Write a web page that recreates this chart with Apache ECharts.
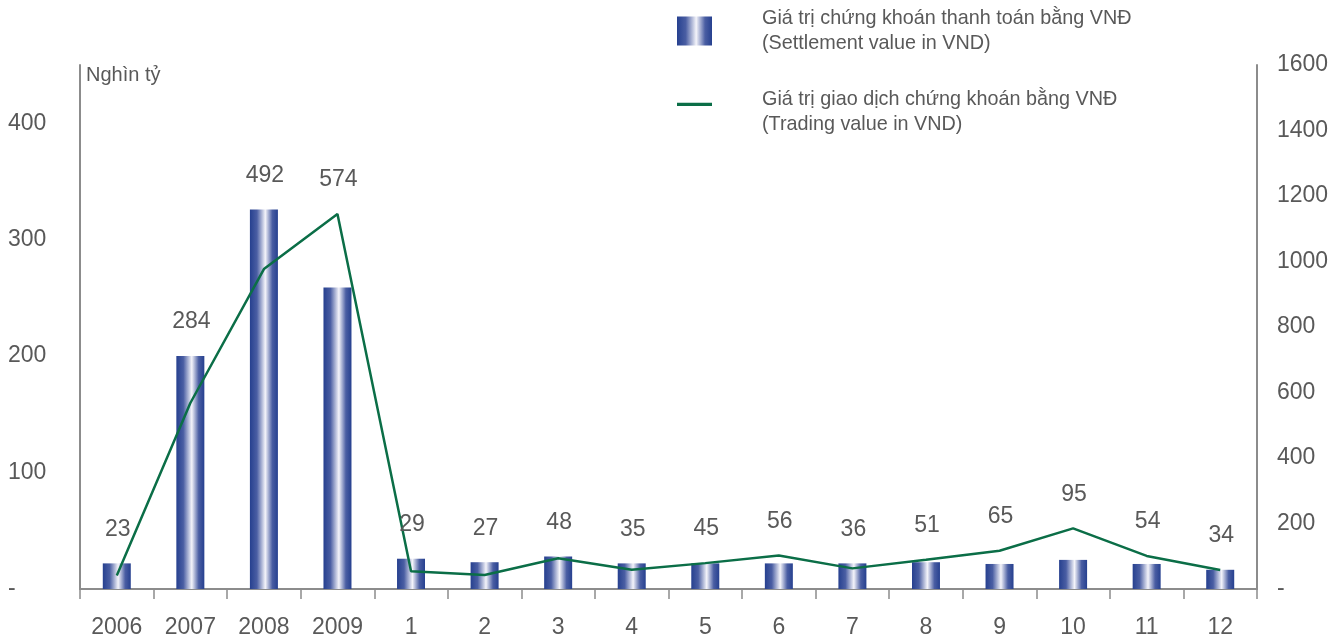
<!DOCTYPE html>
<html>
<head>
<meta charset="utf-8">
<script src="https://cdn.jsdelivr.net/npm/echarts@6/dist/echarts.min.js"></script>
<style>html,body{margin:0;padding:0;background:#fff}#c{width:1344px;height:641px}</style>
</head>
<body>
<div id="c"></div>
<script>
var categories = ['2006','2007','2008','2009','1','2','3','4','5','6','7','8','9','10','11','12'];
var settlementValues = [22, 200, 326, 259, 26, 23, 28, 22, 22, 22, 22, 23, 21.5, 25, 21.5, 16.5];
var tradingValues = [41, 568, 977, 1145, 54, 43, 94, 59, 79, 102, 63, 89, 117, 185, 101, 58];
var valueLabels = ['23','284','492','574','29','27','48','35','45','56','36','51','65','95','54','34'];
var seriesNames = ['Giá trị chứng khoán thanh toán bằng VNĐ\n(Settlement value in VND)',
                   'Giá trị giao dịch chứng khoán bằng VNĐ\n(Trading value in VND)'];
var leftUnit = 'Nghìn tỷ';

var FONT = '"Liberation Sans", Arial, sans-serif';
var TXT = '#595959';
var AX = '#8c8c8c';
var LEFT_MAX = 450, RIGHT_MAX = 1600;
var barGrad = new echarts.graphic.LinearGradient(0, 0, 1, 0, [
  {offset: 0, color: '#26408f'},
  {offset: 0.25, color: '#4a5ea3'},
  {offset: 0.55, color: '#f4f4fa'},
  {offset: 0.8, color: '#4a5ea3'},
  {offset: 1, color: '#26408f'}
]);

var labelData = categories.map(function (c, i) {
  return [i, settlementValues[i], tradingValues[i] * LEFT_MAX / RIGHT_MAX];
});

var legendText = {fontFamily: FONT, fontSize: 19.8, color: TXT, lineHeight: 25, padding: [0, 0, 0, 45]};

var chart = echarts.init(document.getElementById('c'));
chart.setOption({
  animation: false,
  textStyle: {fontFamily: FONT},
  grid: {left: 80, right: 87, top: 65, bottom: 52},
  legend: [
    {
      orient: 'vertical', left: 672, top: 1,
      itemWidth: 35, itemHeight: 29,
      textStyle: legendText,
      data: [{name: seriesNames[0], icon: 'rect'}]
    },
    {
      orient: 'vertical', left: 672, top: 82,
      itemWidth: 35, itemHeight: 29,
      textStyle: legendText,
      data: [{name: seriesNames[1], icon: 'path://M0,0 L32,0 L32,3 L0,3 Z M0,17 L0.01,17 L0,17.01 Z'}]
    }
  ],
  xAxis: {
    type: 'category', data: categories,
    axisLine: {lineStyle: {color: AX, width: 2}},
    axisTick: {show: true, length: 10, interval: 0, lineStyle: {color: AX, width: 1.5}},
    axisLabel: {fontSize: 23, color: TXT, margin: 27, interval: 0, fontFamily: FONT}
  },
  yAxis: [
    {
      type: 'value', min: 0, max: LEFT_MAX, interval: 100,
      name: leftUnit, nameLocation: 'end', nameGap: -10,
      nameTextStyle: {align: 'left', verticalAlign: 'middle', fontSize: 20, color: TXT, padding: [0, 0, 0, 6], fontFamily: FONT},
      axisLine: {show: true, lineStyle: {color: AX, width: 2}},
      axisTick: {show: false},
      splitLine: {show: false},
      axisLabel: {showMaxLabel: false, fontSize: 23, color: TXT, align: 'left', margin: 72, fontFamily: FONT,
        formatter: function (v) { return v === 0 ? '-' : String(v); }}
    },
    {
      type: 'value', min: 0, max: RIGHT_MAX, interval: 200,
      axisLine: {show: true, lineStyle: {color: AX, width: 2}},
      axisTick: {show: false},
      splitLine: {show: false},
      axisLabel: {fontSize: 23, color: TXT, align: 'left', margin: 20, fontFamily: FONT,
        formatter: function (v) { return v === 0 ? '-' : String(v); }}
    }
  ],
  series: [
    {
      name: seriesNames[0], type: 'bar', yAxisIndex: 0,
      data: settlementValues, barWidth: 28,
      itemStyle: {color: barGrad}
    },
    {
      name: seriesNames[1], type: 'line', yAxisIndex: 1,
      data: tradingValues, symbol: 'none', z: 5,
      lineStyle: {color: '#0b6e47', width: 2.5},
      itemStyle: {color: '#0b6e47'}
    },
    {
      name: 'labels', type: 'custom', yAxisIndex: 0, silent: true, z: 6,
      data: labelData,
      renderItem: function (params, api) {
        var pBar = api.coord([api.value(0), api.value(1)]);
        var pLine = api.coord([api.value(0), api.value(2)]);
        var y = Math.min(pBar[1], pLine[1]) - 34;
        return {
          type: 'text', x: pBar[0] + 1, y: y,
          style: {text: valueLabels[params.dataIndex], textAlign: 'center', textVerticalAlign: 'middle',
                  fontSize: 23, fontFamily: FONT, fill: TXT}
        };
      }
    }
  ]
});
</script>
</body>
</html>
